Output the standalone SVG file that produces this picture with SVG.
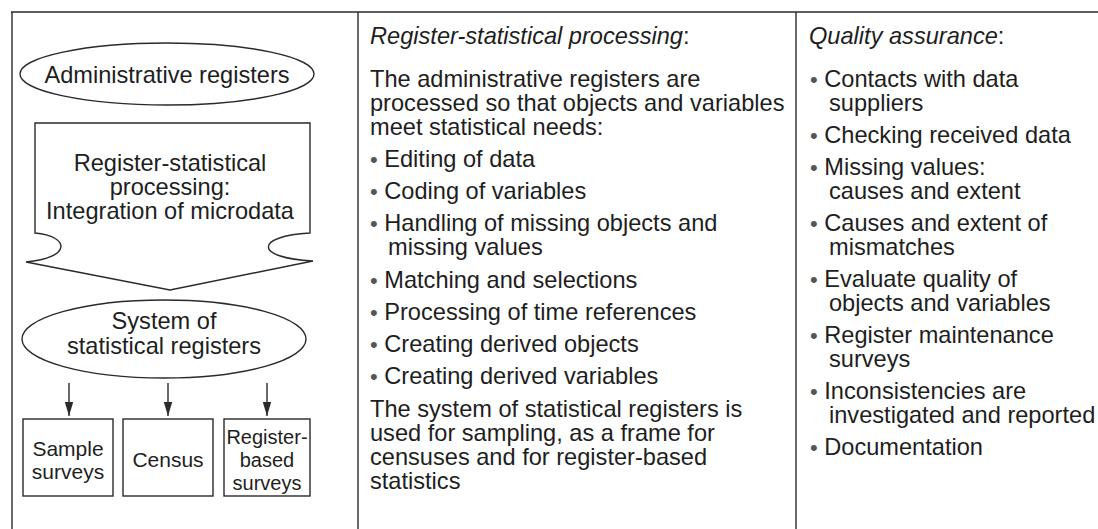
<svg xmlns="http://www.w3.org/2000/svg" width="1098" height="529" viewBox="0 0 1098 529">
<defs>
<style>
text{font-family:"Liberation Sans",Arial,Helvetica,sans-serif;font-size:23.6px;fill:#1e1e1e}
.c{text-anchor:middle}
.it{font-style:italic}
.bx{font-size:21px}
.bs{font-size:20px}
.b{fill:#555;font-size:22px}
.ln{stroke:#2a2a2a;stroke-width:1.4;fill:none}
.sh{stroke:#2a2a2a;stroke-width:1.4;fill:#fff}
</style>
<marker id="ah" markerUnits="userSpaceOnUse" markerWidth="14" markerHeight="10" viewBox="0 0 14 10" refX="14" refY="5" orient="auto">
<path d="M0,0.8 L14,5 L0,9.2 Z" fill="#2a2a2a"/>
</marker>
</defs>
<rect width="1098" height="529" fill="#fff"/>
<g id="frame">
<line class="ln" x1="11" y1="12" x2="1098" y2="12"/>
<line class="ln" x1="12" y1="12" x2="12" y2="529"/>
<line class="ln" x1="358" y1="12" x2="358" y2="529"/>
<line class="ln" x1="796" y1="12" x2="796" y2="529"/>
</g>
<g id="admin-registers">
<ellipse class="sh" cx="167" cy="74" rx="147" ry="31"/>
<text class="c" x="167" y="83">Administrative registers</text>
</g>
<g id="processing-arrow">
<path class="sh" d="M35,123 H310 V233 C255,236 253,258 313,261 L170,290 L26,262 C72,258 70,236 35,233 Z"/>
<text class="c" x="170" y="171">Register-statistical</text>
<text class="c" x="170" y="195">processing:</text>
<text class="c" x="170" y="219">Integration of microdata</text>
</g>
<g id="system-registers">
<ellipse class="sh" cx="164" cy="339" rx="142" ry="39"/>
<text class="c" x="164" y="329">System of</text>
<text class="c" x="164" y="354">statistical registers</text>
</g>
<g id="connectors">
<line class="ln" x1="69" y1="383" x2="69" y2="416" marker-end="url(#ah)"/>
<line class="ln" x1="168" y1="383" x2="168" y2="416" marker-end="url(#ah)"/>
<line class="ln" x1="267" y1="383" x2="267" y2="416" marker-end="url(#ah)"/>
</g>
<g id="sample-surveys">
<rect class="sh" x="23" y="419" width="90" height="77"/>
<text class="c bx" x="68" y="456">Sample</text>
<text class="c bx" x="68" y="479">surveys</text>
</g>
<g id="census">
<rect class="sh" x="123" y="419" width="90" height="77"/>
<text class="c bx" x="168" y="467">Census</text>
</g>
<g id="register-based-surveys">
<rect class="sh" x="224" y="419" width="86" height="77"/>
<text class="c bs" x="267" y="444">Register-</text>
<text class="c bs" x="267" y="467">based</text>
<text class="c bs" x="267" y="490">surveys</text>
</g>
<g id="middle-column">
<text class="it" x="370" y="44">Register-statistical processing<tspan font-style="normal">:</tspan></text>
<text x="370" y="87">The administrative registers are</text>
<text x="370" y="111">processed so that objects and variables</text>
<text x="370" y="135">meet statistical needs:</text>
<text x="370" y="167"><tspan class="b">•</tspan> Editing of data</text>
<text x="370" y="199"><tspan class="b">•</tspan> Coding of variables</text>
<text x="370" y="231"><tspan class="b">•</tspan> Handling of missing objects and</text>
<text x="388" y="255">missing values</text>
<text x="370" y="288"><tspan class="b">•</tspan> Matching and selections</text>
<text x="370" y="320"><tspan class="b">•</tspan> Processing of time references</text>
<text x="370" y="352"><tspan class="b">•</tspan> Creating derived objects</text>
<text x="370" y="384"><tspan class="b">•</tspan> Creating derived variables</text>
<text x="370" y="417">The system of statistical registers is</text>
<text x="370" y="441">used for sampling, as a frame for</text>
<text x="370" y="465">censuses and for register-based</text>
<text x="370" y="489">statistics</text>
</g>
<g id="right-column">
<text class="it" x="809" y="44">Quality assurance<tspan font-style="normal">:</tspan></text>
<text x="810" y="87"><tspan class="b">•</tspan> Contacts with data</text>
<text x="829" y="111">suppliers</text>
<text x="810" y="143"><tspan class="b">•</tspan> Checking received data</text>
<text x="810" y="175"><tspan class="b">•</tspan> Missing values:</text>
<text x="829" y="199">causes and extent</text>
<text x="810" y="231"><tspan class="b">•</tspan> Causes and extent of</text>
<text x="829" y="255">mismatches</text>
<text x="810" y="287"><tspan class="b">•</tspan> Evaluate quality of</text>
<text x="829" y="311">objects and variables</text>
<text x="810" y="343"><tspan class="b">•</tspan> Register maintenance</text>
<text x="829" y="367">surveys</text>
<text x="810" y="399"><tspan class="b">•</tspan> Inconsistencies are</text>
<text x="829" y="423">investigated and reported</text>
<text x="810" y="455"><tspan class="b">•</tspan> Documentation</text>
</g>
</svg>
